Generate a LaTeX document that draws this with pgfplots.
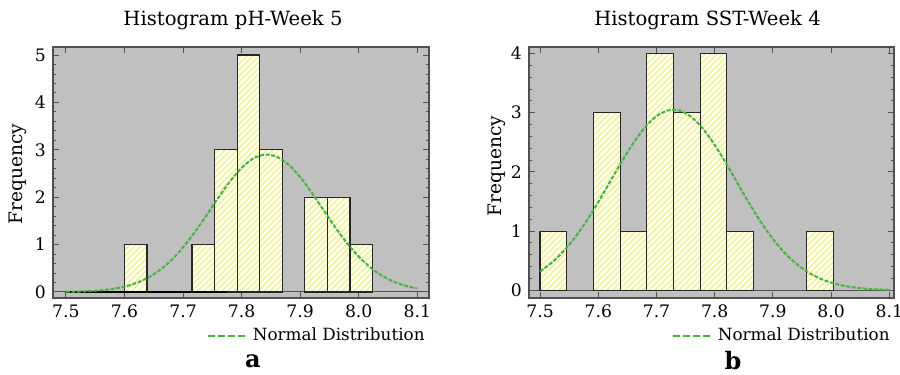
\documentclass[border=0pt]{standalone}
\usepackage{fontspec}
\setmainfont{DejaVu Serif}
\usepackage{pgfplots}
\pgfplotsset{compat=1.18}
\usetikzlibrary{patterns}
\definecolor{bg}{RGB}{192,192,192}
\definecolor{barfill}{RGB}{255,255,228}
\definecolor{hatch}{RGB}{232,232,150}
\definecolor{curvec}{RGB}{70,180,60}
\definecolor{framec}{RGB}{80,80,80}
\pgfplotsset{
  hist/.style={
    scale only axis, height=125.5pt,
    anchor=south west,
    axis background/.style={fill=bg},
    axis line style={framec, line width=0.6pt},
    every tick/.style={framec, line width=0.5pt},
    major tick length=3pt, minor tick length=1.6pt,
    tick align=inside,
    xtick={7.5,7.6,7.7,7.8,7.9,8.0,8.1},
    xticklabels={7.5,7.6,7.7,7.8,7.9,8.0,8.1},
    minor y tick num=4,
    tick label style={font=\fontsize{8.6}{9.5}\selectfont},
    /pgf/number format/assume math mode=true,
    extra y ticks={0}, extra y tick labels={},
    extra y tick style={grid=major, major grid style={framec, line width=0.5pt}},
    legend style={draw=none, fill=none, inner sep=0pt, anchor=east,
      font=\fontsize{8.4}{9.5}\selectfont},
    legend image code/.code={\draw[#1, dash pattern=on 3.5pt off 1.5pt] (0pt,0pt) -- (20pt,0pt);},
  },
  bars/.style={ybar interval, draw=black!85, line width=0.6pt, fill=barfill,
    postaction={pattern=north east lines, pattern color=hatch}, forget plot},
  ncurve/.style={curvec, line width=1pt, dash pattern=on 2pt off 0.8pt, smooth},
}
\begin{document}
\begin{tikzpicture}
\useasboundingbox (0,0) rectangle (450pt,187.5pt);
% ---------- panel a ----------
\begin{axis}[hist, at={(26.5pt,38.5pt)}, width=188pt,
  xmin=7.478, xmax=8.12, ymin=-0.127, ymax=5.17,
  ytick={0,1,2,3,4,5},
  legend style={at={(1,-0.151)}}]
\addplot[bars] coordinates {(7.6,1) (7.6385,1)};
\addplot[bars] coordinates {(7.7155,1) (7.754,3) (7.7925,5) (7.831,3) (7.8695,0)};
\addplot[bars] coordinates {(7.908,2) (7.9465,2) (7.985,1) (8.0235,0)};
\addplot[black, line width=0.6pt, forget plot] coordinates {(7.5,0) (7.775,0)};
\addplot[ncurve] coordinates {
(7.50,0.005) (7.52,0.009) (7.54,0.019) (7.56,0.035) (7.58,0.064)
(7.60,0.112) (7.62,0.188) (7.64,0.300) (7.66,0.459) (7.68,0.672)
(7.70,0.941) (7.72,1.261) (7.74,1.617) (7.76,1.984) (7.78,2.330)
(7.80,2.619) (7.82,2.817) (7.84,2.899) (7.86,2.854) (7.88,2.689)
(7.90,2.425) (7.92,2.092) (7.94,1.727) (7.96,1.364) (7.98,1.031)
(8.00,0.747) (8.02,0.517) (8.04,0.342) (8.06,0.217) (8.08,0.131)
(8.10,0.076)};
\addlegendentry{Normal Distribution}
\end{axis}
% ---------- panel b ----------
\begin{axis}[hist, at={(264.5pt,38.5pt)}, width=182.5pt,
  xmin=7.481, xmax=8.108, ymin=-0.13, ymax=4.11,
  ytick={0,1,2,3,4},
  legend style={at={(1,-0.151)}}]
\addplot[bars] coordinates {(7.5,1) (7.5458,1)};
\addplot[bars] coordinates {(7.5917,3) (7.6375,1) (7.6833,4) (7.7292,3) (7.775,4) (7.8208,1) (7.8667,0)};
\addplot[bars] coordinates {(7.9583,1) (8.0042,0)};
\addplot[ncurve] coordinates {
(7.50,0.320) (7.52,0.465) (7.54,0.656) (7.56,0.892) (7.58,1.174)
(7.60,1.491) (7.62,1.830) (7.64,2.169) (7.66,2.484) (7.68,2.751)
(7.70,2.942) (7.72,3.039) (7.74,3.034) (7.76,2.926) (7.78,2.727)
(7.80,2.455) (7.82,2.137) (7.84,1.795) (7.86,1.458) (7.88,1.143)
(7.90,0.867) (7.92,0.635) (7.94,0.450) (7.96,0.307) (7.98,0.203)
(8.00,0.129) (8.02,0.080) (8.04,0.048) (8.06,0.027) (8.08,0.015)
(8.10,0.008)};
\addlegendentry{Normal Distribution}
\end{axis}
% ---------- texts ----------
\node[font=\fontsize{9.8}{11}\selectfont] at (116.5pt,177.5pt) {Histogram pH-Week 5};
\node[font=\fontsize{9.8}{11}\selectfont] at (353.75pt,177.5pt) {Histogram SST-Week 4};
\node[font=\fontsize{9.3}{10}\selectfont, rotate=90] at (9pt,100.5pt) {Frequency};
\node[font=\fontsize{9.3}{10}\selectfont, rotate=90] at (248.5pt,104.5pt) {Frequency};
\node[font=\fontsize{12}{13}\selectfont\bfseries] at (126.5pt,7pt) {a};
\node[font=\fontsize{12}{13}\selectfont\bfseries] at (366.5pt,7pt) {b};
\end{tikzpicture}
\end{document}
